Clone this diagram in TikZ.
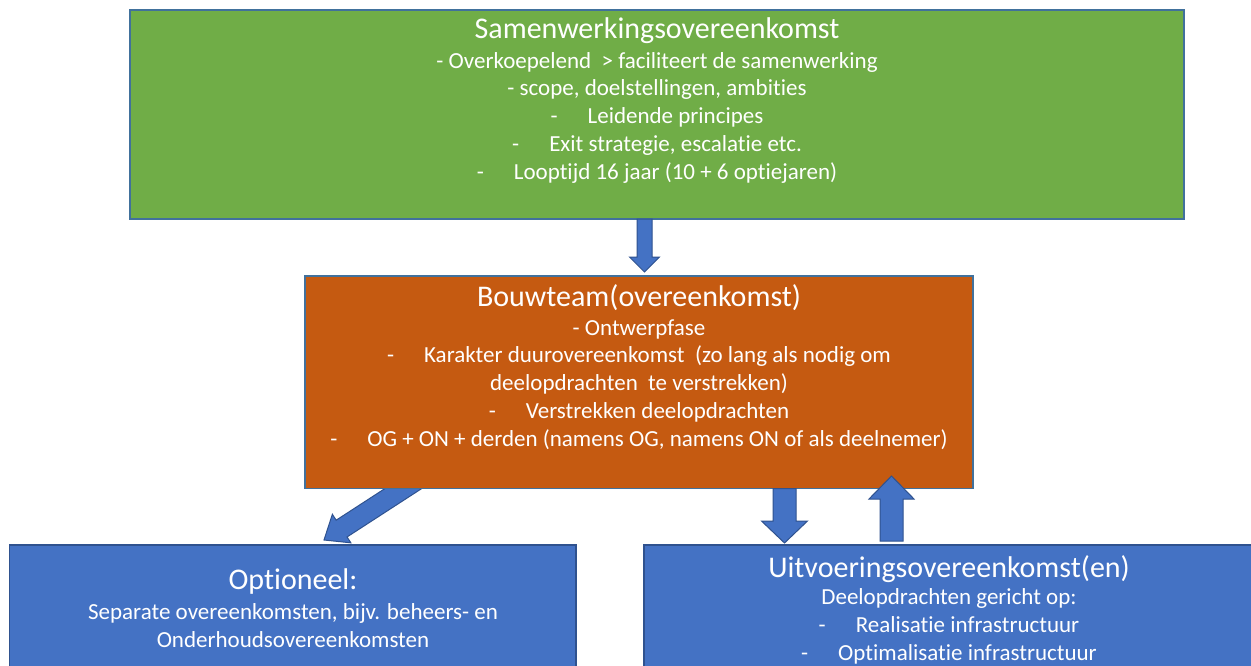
\documentclass[tikz,border=0pt]{standalone}
\usepackage{fontspec}
\setmainfont{Carlito}[Ligatures=NoCommon]
\usetikzlibrary{calc}
\definecolor{gfill}{HTML}{70AD47}
\definecolor{ofill}{HTML}{C55A11}
\definecolor{bfill}{HTML}{4472C4}
\definecolor{bline}{HTML}{2F528F}
\definecolor{edgec}{HTML}{41719C}
\newcommand\dsh{-\hspace{30pt}}
\newcommand\blockarrow[5]{%
  \coordinate (baH) at ($(#2)!#5!(#1)$);
  \draw[blockarrow] ($(#1)!#3!90:(#2)$) -- ($(baH)!#3!-90:(#1)$) -- ($(baH)!#4!-90:(#1)$)
     -- (#2) -- ($(baH)!#4!90:(#1)$) -- ($(baH)!#3!90:(#1)$) -- ($(#1)!#3!-90:(#2)$) -- cycle;
}
\tikzset{
  box/.style={draw=edgec, line width=1.2pt, inner sep=0pt, outer sep=0pt, rectangle},
  ttl/.style={anchor=base, text=white, inner sep=0pt, font=\fontsize{30}{36}\selectfont},
  bdy/.style={anchor=base, text=white, inner sep=0pt, font=\fontsize{23}{28}\selectfont},
  blockarrow/.style={fill=bfill, draw=bline, line width=1pt, line join=miter},
}
\begin{document}
\begin{tikzpicture}[x=1pt,y=-1pt]
\useasboundingbox (0,0) rectangle (1251,666);
\clip (0,0) rectangle (1251,666);
\fill[white] (0,0) rectangle (1251,666);

% diagonal arrow (behind the Bouwteam box)
\coordinate (d1) at (425,474.5);
\coordinate (d2) at (324,540);
\blockarrow{d1}{d2}{10pt}{17pt}{21pt}

% boxes
\node[box, fill=gfill, minimum width=1054pt, minimum height=209pt] (sam) at (657,114.5) {};
\node[box, fill=ofill, minimum width=668pt, minimum height=212.5pt] (bouw) at (639,382.25) {};
\node[box, fill=bfill, draw=bline, minimum width=566.5pt, minimum height=145pt] (opt) at (292.75,617.5) {};
\node[box, fill=bfill, draw=bline, minimum width=612pt, minimum height=145pt] (uitv) at (950,617.5) {};

% arrows
\coordinate (a1) at (644.5,219);
\coordinate (a2) at (644.5,272);
\blockarrow{a1}{a2}{7.5pt}{15pt}{15pt}
\coordinate (b1) at (784.5,488.5);
\coordinate (b2) at (784.5,543);
\blockarrow{b1}{b2}{11.5pt}{23pt}{22pt}
\coordinate (c1) at (891.5,541);
\coordinate (c2) at (891.5,476);
\blockarrow{c1}{c2}{11.5pt}{22.5pt}{23pt}

% texts: Samenwerkingsovereenkomst
\node[ttl] (s0) at (657,38.5) {Samenwerkingsovereenkomst};
\node[bdy] (s1) at (657,68.3) {- Overkoepelend~ > faciliteert de samenwerking};
\node[bdy] (s2) at (657,96) {- scope, doelstellingen, ambities};
\node[bdy] (s3) at (657,123.5) {\dsh Leidende principes};
\node[bdy] (s4) at (657,151.3) {\dsh Exit strategie, escalatie etc.};
\node[bdy] (s5) at (657,179.3) {\dsh Looptijd 16 jaar (10 + 6 optiejaren)};

% Bouwteam
\node[ttl] (o0) at (639,306) {Bouwteam(overeenkomst)};
\node[bdy] (o1) at (639,335) {- Ontwerpfase};
\node[bdy] (o2) at (639,362.5) {\dsh Karakter duurovereenkomst~ (zo lang als nodig om};
\node[bdy] (o3) at (639,390.5) {deelopdrachten~ te verstrekken)};
\node[bdy] (o4) at (639,418.5) {\dsh Verstrekken deelopdrachten};
\node[bdy] (o5) at (639,446.5) {\dsh OG + ON + derden (namens OG, namens ON of als deelnemer)};

% Optioneel
\node[ttl] (p0) at (293,589) {Optioneel:};
\node[bdy] (p1) at (293,619) {Separate overeenkomsten, bijv. beheers- en};
\node[bdy] (p2) at (293,647) {Onderhoudsovereenkomsten};

% Uitvoering
\node[ttl] (u0) at (949,577.5) {Uitvoeringsovereenkomst(en)};
\node[bdy] (u1) at (949,604.5) {Deelopdrachten gericht op:};
\node[bdy] (u2) at (949,632.5) {\dsh Realisatie infrastructuur};
\node[bdy] (u3) at (949,660.5) {\dsh Optimalisatie infrastructuur};
\end{tikzpicture}
\end{document}
